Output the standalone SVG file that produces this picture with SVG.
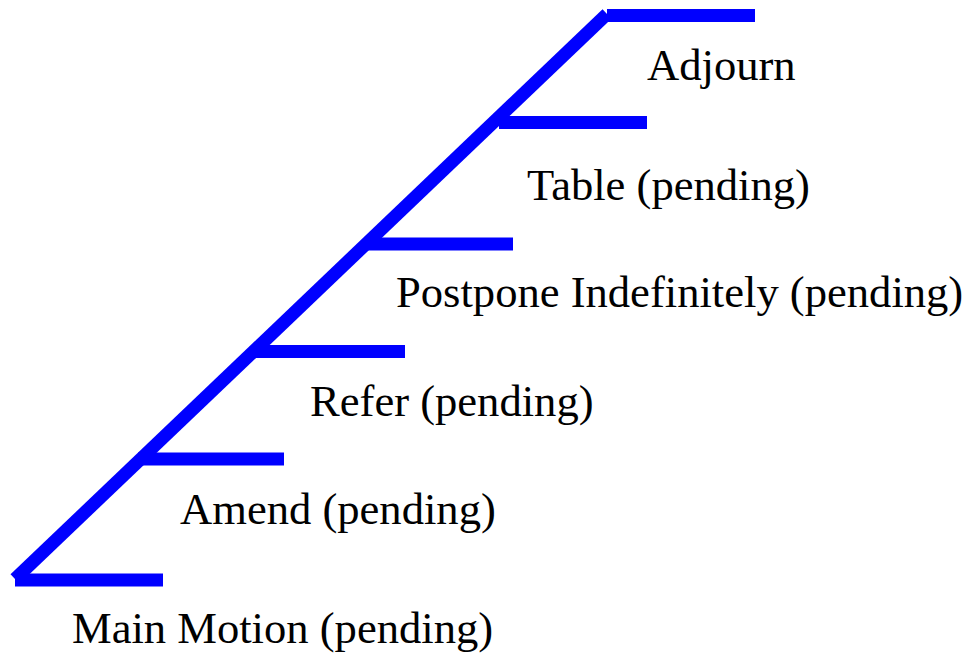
<svg xmlns="http://www.w3.org/2000/svg" width="972" height="656" viewBox="0 0 972 656">
<style>
.ln{stroke:#0000ff;stroke-width:13;fill:none;stroke-linecap:butt}
.t{font-family:"Liberation Serif","Times New Roman",serif;font-size:44.6px;fill:#000}
</style>
<rect width="972" height="656" fill="#fff"/>
<g id="connectors">
<line class="ln" x1="15" y1="579" x2="607" y2="14"/>
<line class="ln" x1="607" y1="15.5" x2="755" y2="15.5"/>
<line class="ln" x1="499" y1="122.5" x2="647" y2="122.5"/>
<line class="ln" x1="367" y1="244" x2="513" y2="244"/>
<line class="ln" x1="255" y1="351.5" x2="405" y2="351.5"/>
<line class="ln" x1="138" y1="459" x2="284" y2="459"/>
<line class="ln" x1="15" y1="580" x2="163" y2="580"/>
</g>
<g id="adjourn"><text class="t" x="647" y="80">Adjourn</text></g>
<g id="table"><text class="t" x="527" y="200">Table (pending)</text></g>
<g id="postpone"><text class="t" x="396" y="307">Postpone Indefinitely (pending)</text></g>
<g id="refer"><text class="t" x="310" y="416">Refer (pending)</text></g>
<g id="amend"><text class="t" x="180" y="524">Amend (pending)</text></g>
<g id="main"><text class="t" x="72" y="643">Main Motion (pending)</text></g>
</svg>
